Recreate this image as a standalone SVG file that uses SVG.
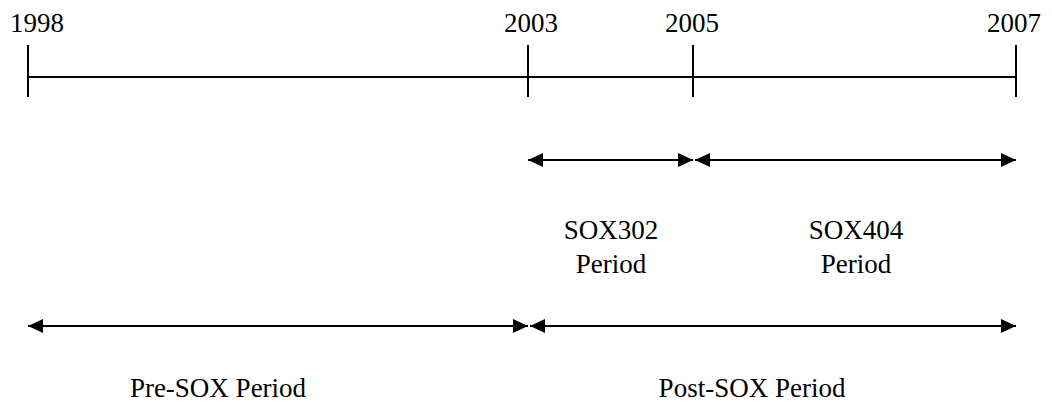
<svg xmlns="http://www.w3.org/2000/svg" width="1052" height="407" viewBox="0 0 1052 407">
<style>
.ln{stroke:#000;stroke-width:2;fill:none}
.ar{stroke:#000;stroke-width:2;fill:none;marker-start:url(#ah);marker-end:url(#ah)}
text{font-family:"Liberation Serif","Times New Roman",serif;font-size:27px;fill:#000;text-anchor:middle}
</style>
<defs>
<marker id="ah" viewBox="0 0 15 14" refX="15" refY="7" markerWidth="15" markerHeight="14" markerUnits="userSpaceOnUse" orient="auto-start-reverse">
<path d="M0,0 L15,7 L0,14 Z" fill="#000"/>
</marker>
</defs>
<g id="timeline">
<line class="ln" x1="28" y1="77" x2="1016" y2="77"/>
<line class="ln" x1="28" y1="45" x2="28" y2="97"/>
<line class="ln" x1="528" y1="45" x2="528" y2="97"/>
<line class="ln" x1="693" y1="45" x2="693" y2="97"/>
<line class="ln" x1="1016" y1="45" x2="1016" y2="97"/>
</g>
<g id="years">
<text x="37" y="32">1998</text>
<text x="531" y="32">2003</text>
<text x="692" y="32">2005</text>
<text x="1014" y="32">2007</text>
</g>
<g id="connectors">
<line class="ar" x1="528" y1="160" x2="693" y2="160"/>
<line class="ar" x1="695" y1="160" x2="1016" y2="160"/>
<line class="ar" x1="28" y1="326" x2="528" y2="326"/>
<line class="ar" x1="530" y1="326" x2="1016" y2="326"/>
</g>
<g id="sox302"><text x="611" y="239">SOX302</text><text x="611" y="273">Period</text></g>
<g id="sox404"><text x="856" y="239">SOX404</text><text x="856" y="273">Period</text></g>
<g id="presox"><text x="218" y="397">Pre-SOX Period</text></g>
<g id="postsox"><text x="752" y="397">Post-SOX Period</text></g>
</svg>
